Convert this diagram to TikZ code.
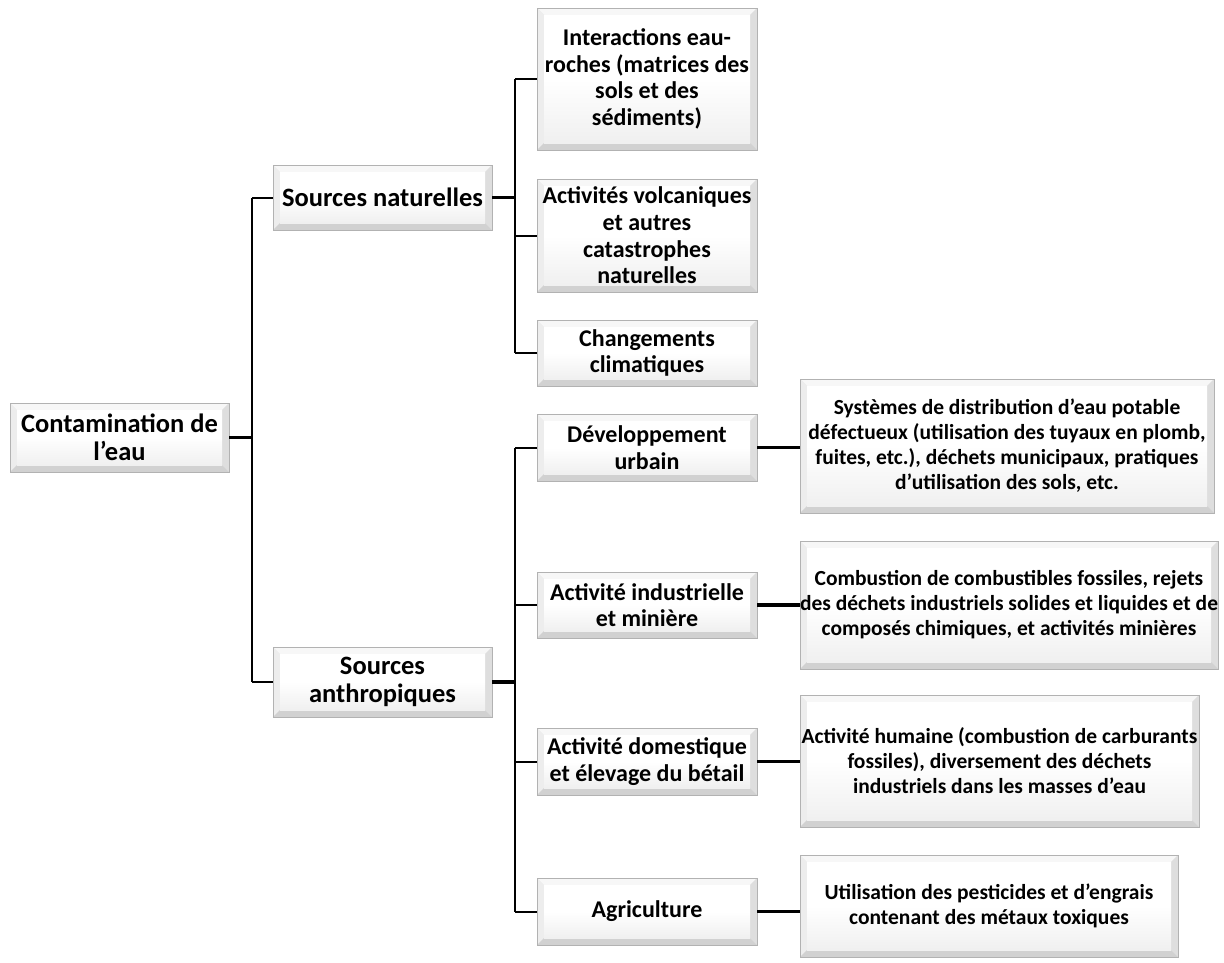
\documentclass[tikz,border=0pt]{standalone}
\usepackage{fontspec}
\setmainfont{Carlito}
\usetikzlibrary{calc}
\tikzset{
  bev/.style={draw=gray!60, line width=0.8pt, inner sep=0pt, align=center,
    font=\bfseries\fontsize{24}{26.7}\selectfont,
    path picture={
      \coordinate (@sw) at (path picture bounding box.south west);
      \coordinate (@ne) at (path picture bounding box.north east);
      \coordinate (@nw) at (path picture bounding box.north west);
      \coordinate (@se) at (path picture bounding box.south east);
      \coordinate (@isw) at ($(@sw)+(7pt,7pt)$);
      \coordinate (@ine) at ($(@ne)+(-7pt,-7pt)$);
      \coordinate (@inw) at ($(@nw)+(7pt,-7pt)$);
      \coordinate (@ise) at ($(@se)+(-7pt,7pt)$);
      \fill[gray!20] (@sw) rectangle (@ne);
      \fill[gray!6] (@nw) -- (@ne) -- (@ine) -- (@inw) -- cycle;
      \fill[gray!14] (@nw) -- (@inw) -- (@isw) -- (@sw) -- cycle;
      \fill[gray!26] (@ne) -- (@ine) -- (@ise) -- (@se) -- cycle;
      \fill[gray!36] (@sw) -- (@isw) -- (@ise) -- (@se) -- cycle;
      \shade[top color=white, bottom color=gray!12, middle color=white] (@isw) rectangle (@ine);
    }},
  big/.style={font=\bfseries\fontsize{26.5}{28}\selectfont},
  small/.style={font=\bfseries\fontsize{21.5}{25}\selectfont},
  stub/.style={line width=3.5pt},
  conn/.style={line width=2pt},
}
\begin{document}
\begin{tikzpicture}[x=1pt,y=-1pt]
\useasboundingbox (0,0) rectangle (1224,962);
% level 0 and 1
\node[bev, big, minimum width=219pt, minimum height=69pt] (root) at (119.5,437.5) {Contamination de\\l’eau};
\node[bev, big, minimum width=219pt, minimum height=65pt] (nat) at (382.5,197.5) {Sources naturelles};
\node[bev, big, minimum width=219pt, minimum height=70pt] (anth) at (382.5,682) {Sources\\anthropiques};
% natural children
\node[bev, minimum width=220pt, minimum height=142pt] (n1) at (647,79) {Interactions eau-\\roches (matrices des\\sols et des\\sédiments)};
\node[bev, minimum width=220pt, minimum height=113pt] (n2) at (647,235.5) {Activités volcaniques\\et autres\\catastrophes\\naturelles};
\node[bev, minimum width=220pt, minimum height=66pt] (n3) at (647,353) {Changements\\climatiques};
% anthropic children
\node[bev, minimum width=220pt, minimum height=67pt] (a1) at (647,447.5) {Développement\\urbain};
\node[bev, minimum width=220pt, minimum height=66pt] (a2) at (647,605) {Activité industrielle\\et minière};
\node[bev, minimum width=220pt, minimum height=67pt] (a3) at (647,761.5) {Activité domestique\\et élevage du bétail};
\node[bev, minimum width=220pt, minimum height=67pt] (a4) at (647,911.5) {Agriculture};
% details
\node[bev, small, minimum width=414pt, minimum height=134pt] (r1) at (1007,446) {Systèmes de distribution d’eau potable\\défectueux (utilisation des tuyaux en plomb,\\fuites, etc.), déchets municipaux, pratiques\\d’utilisation des sols, etc.};
\node[bev, small, minimum width=418pt, minimum height=128pt] (r2) at (1009,605) {Combustion de combustibles fossiles, rejets\\des déchets industriels solides et liquides et de\\composés chimiques, et activités minières};
\node[bev, small, minimum width=399pt, minimum height=132pt] (r3) at (999.5,761) {Activité humaine (combustion de carburants\\fossiles), diversement des déchets\\industriels dans les masses d’eau};
\node[bev, small, minimum width=378pt, minimum height=102pt] (r4) at (989,906) {Utilisation des pesticides et d’engrais\\contenant des métaux toxiques};
% trunk coordinates
\coordinate (j0) at (252,0);
\coordinate (j1) at (515,0);
% connectors level 0 -> 1
\draw[stub] (root.east) -- (root.east -| j0);
\draw[conn] (j0 |- nat.west) -- (j0 |- anth.west);
\draw[conn] (j0 |- nat.west) -- (nat.west);
\draw[conn] (j0 |- anth.west) -- (anth.west);
% natural
\draw[stub] (nat.east) -- (nat.east -| j1);
\draw[conn] (j1 |- n1.west) -- (j1 |- n3.west);
\draw[conn] (j1 |- n1.west) -- (n1.west);
\draw[conn] (j1 |- n2.west) -- (n2.west);
\draw[conn] (j1 |- n3.west) -- (n3.west);
% anthropic
\draw[stub] (anth.east) -- (anth.east -| j1);
\draw[conn] (j1 |- a1.west) -- (j1 |- a4.west);
\draw[conn] (j1 |- a1.west) -- (a1.west);
\draw[conn] (j1 |- a2.west) -- (a2.west);
\draw[conn] (j1 |- a3.west) -- (a3.west);
\draw[conn] (j1 |- a4.west) -- (a4.west);
% details
\draw[stub] (a1.east) -- (a1.east -| r1.west);
\draw[stub] (a2.east) -- (a2.east -| r2.west);
\draw[stub] (a3.east) -- (a3.east -| r3.west);
\draw[stub] (a4.east) -- (a4.east -| r4.west);
\end{tikzpicture}
\end{document}
